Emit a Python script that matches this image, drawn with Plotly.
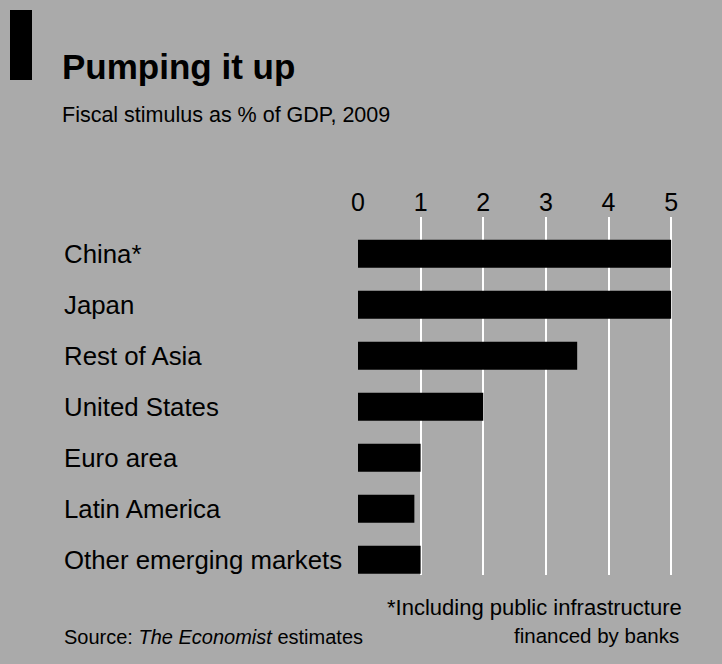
import plotly.graph_objects as go

categories = ["China*", "Japan", "Rest of Asia", "United States", "Euro area",
              "Latin America", "Other emerging markets"]
values = [5.0, 5.0, 3.5, 2.0, 1.0, 0.9, 1.0]
tick_vals = [0, 1, 2, 3, 4, 5]
tick_text = ["0", "1", "2", "3", "4", "5"]

title = "<b>Pumping it up</b>"
subtitle = "Fiscal stimulus as % of GDP, 2009"
source = "Source: <i>The Economist</i> estimates"
note1 = "*Including public infrastructure"
note2 = "financed by banks"

W_PX, H_PX = 722, 664
L, T, R, B = 358, 217, 49, 89
PW = W_PX - L - R
PH = H_PX - T - B


def px(x):
    return (x - L) / PW


def py(y):
    return 1 - (y - T) / PH


FONT = "Liberation Sans, Arial, sans-serif"
BG = "#aaaaaa"

fig = go.Figure()
fig.add_trace(go.Bar(
    x=values, y=categories, orientation="h",
    marker=dict(color="black", line=dict(width=0)),
    width=0.55, hoverinfo="skip",
))

annotations = []
for c in categories:
    annotations.append(dict(
        x=px(62), xref="paper", y=c, yref="y", text=c, showarrow=False,
        xanchor="left", yanchor="middle",
        font=dict(family=FONT, size=25.8, color="black"),
    ))

annotations += [
    dict(x=px(60), y=py(66), xref="paper", yref="paper", text=title,
         showarrow=False, xanchor="left", yanchor="middle",
         font=dict(family=FONT, size=35, color="black")),
    dict(x=px(60), y=py(115), xref="paper", yref="paper", text=subtitle,
         showarrow=False, xanchor="left", yanchor="middle",
         font=dict(family=FONT, size=21.5, color="black")),
    dict(x=px(62), y=py(637), xref="paper", yref="paper", text=source,
         showarrow=False, xanchor="left", yanchor="middle",
         font=dict(family=FONT, size=20, color="black")),
    dict(x=px(684), y=py(607), xref="paper", yref="paper", text=note1,
         showarrow=False, xanchor="right", yanchor="middle",
         font=dict(family=FONT, size=22, color="black")),
    dict(x=px(681), y=py(635), xref="paper", yref="paper", text=note2,
         showarrow=False, xanchor="right", yanchor="middle",
         font=dict(family=FONT, size=20.5, color="black")),
]

fig.update_layout(
    width=W_PX, height=H_PX,
    margin=dict(l=L, r=R, t=T, b=B, pad=0),
    paper_bgcolor=BG, plot_bgcolor=BG,
    showlegend=False,
    annotations=annotations,
    shapes=[dict(type="rect", xref="paper", yref="paper",
                 x0=px(10), x1=px(32), y0=py(80), y1=py(10),
                 fillcolor="black", line=dict(width=0), layer="above")],
    xaxis=dict(
        side="top", range=[0, 5.03], tickvals=tick_vals, ticktext=tick_text,
        showgrid=True, gridcolor="white", gridwidth=2, zeroline=False,
        showline=False, ticks="", tickfont=dict(family=FONT, size=25, color="black"),
        fixedrange=True,
    ),
    yaxis=dict(
        categoryorder="array", categoryarray=categories,
        range=[6.3, -0.72], showticklabels=False, showgrid=False,
        zeroline=False, showline=False, ticks="", fixedrange=True,
    ),
)

fig.write_html("out.html")
